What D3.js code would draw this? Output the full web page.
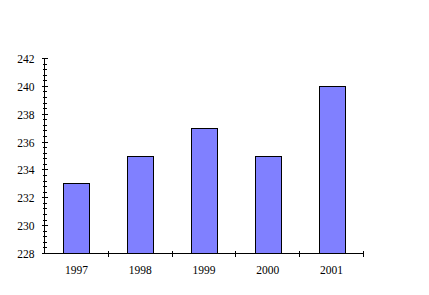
<!DOCTYPE html>
<html><head><meta charset="utf-8">
<script src="https://cdn.jsdelivr.net/npm/d3@7"></script>
<style>
html,body{margin:0;padding:0;background:#fff;}
svg{display:block;}
text{font-family:"Liberation Serif","Times New Roman",serif;font-size:11.5px;fill:#000;}
</style></head>
<body>
<script>
const categories = ["1997","1998","1999","2000","2001"];
const values = [233,235,237,235,240];
const yTicks = [228,230,232,234,236,238,240,242];

const W=429,H=295;
const svg=d3.select("body").append("svg").attr("width",W).attr("height",H);

const x0=44.5,x1=363.5,yTop=58.5,yBot=253.5;
const x=d3.scaleBand().domain(categories).range([x0,x1]).paddingInner(0.59).paddingOuter(0.295);
const y=d3.scaleLinear().domain([228,242]).range([yBot,yTop]);

// bars
svg.append("g").selectAll("rect").data(values).join("rect")
  .attr("x",(d,i)=>Math.round(x(categories[i]))+0.5)
  .attr("y",d=>Math.round(y(d)-0.5)+0.5)
  .attr("width",Math.round(x.bandwidth()))
  .attr("height",d=>yBot-(Math.round(y(d)-0.5)+0.5))
  .attr("fill","#8080FF").attr("stroke","#000").attr("stroke-width",1)
  .attr("shape-rendering","crispEdges");

// y axis: minor ticks
const minor=d3.range(228,242.001,0.4).filter(v=>Math.abs(v/2-Math.round(v/2))>1e-6);
const gy=svg.append("g").attr("shape-rendering","crispEdges");
gy.selectAll("line.minor").data(minor).join("line").attr("class","minor")
  .attr("x1",x0-2).attr("x2",x0+2)
  .attr("y1",d=>Math.round(y(d)-0.5)+0.5).attr("y2",d=>Math.round(y(d)-0.5)+0.5)
  .attr("stroke","#000");
const yAxis=d3.axisLeft(y).tickValues(yTicks).tickSize(0).tickPadding(10).tickFormat(d3.format("d"));
const ya=svg.append("g").attr("transform",`translate(${x0},0)`).call(yAxis);
ya.select(".domain").remove();
ya.selectAll(".tick text").attr("dy","0.35em");
gy.selectAll("line.major").data(yTicks).join("line").attr("class","major")
  .attr("x1",x0-3).attr("x2",x0+3)
  .attr("y1",d=>Math.round(y(d)-0.5)+0.5).attr("y2",d=>Math.round(y(d)-0.5)+0.5).attr("stroke","#000");
gy.append("line").attr("x1",x0).attr("x2",x0).attr("y1",yTop).attr("y2",yBot).attr("stroke","#000");

// x axis
const xAxis=d3.axisBottom(x).tickSize(0).tickPadding(12);
const xa=svg.append("g").attr("transform",`translate(0,${yBot})`).call(xAxis);
xa.select(".domain").remove();
const gx=svg.append("g").attr("shape-rendering","crispEdges");
gx.append("line").attr("x1",x0).attr("x2",x1).attr("y1",yBot).attr("y2",yBot).attr("stroke","#000");
const bounds=categories.map((c,i)=>x0+(i+1)*x.step());
gx.selectAll("line.xt").data(bounds).join("line").attr("class","xt")
  .attr("x1",d=>Math.round(d-0.5)+0.5).attr("x2",d=>Math.round(d-0.5)+0.5)
  .attr("y1",yBot-3).attr("y2",yBot+3).attr("stroke","#000");
</script>
</body></html>
